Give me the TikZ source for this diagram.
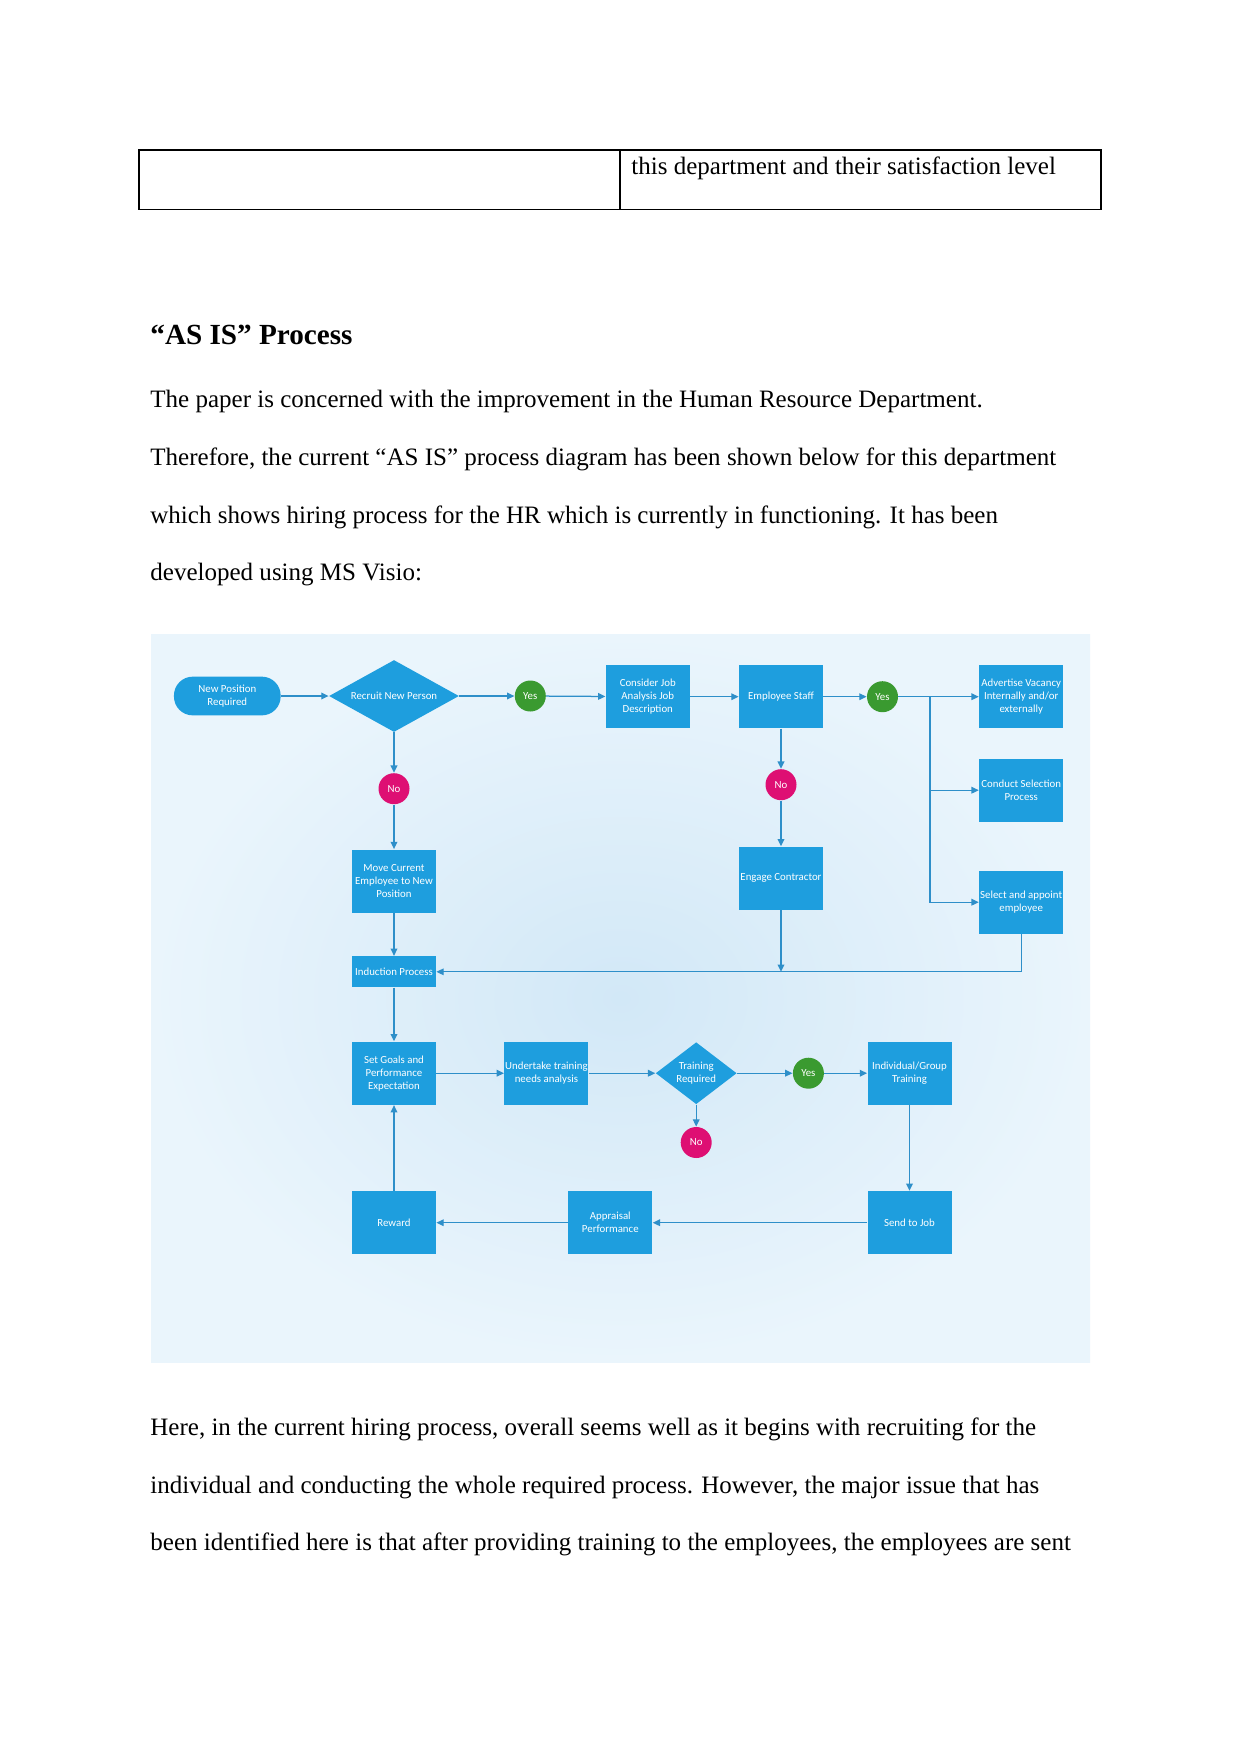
\documentclass[tikz,border=0pt]{standalone}
\usepackage{fontspec}
\setmainfont{Liberation Serif}
\newfontfamily\dfont{Carlito}
\usetikzlibrary{shapes.geometric,arrows.meta}
\definecolor{boxblue}{HTML}{1E9EDE}
\definecolor{yesgreen}{HTML}{3A9A30}
\definecolor{nopink}{HTML}{DE0F73}
\definecolor{linkblue}{HTML}{2E8FC9}
\definecolor{bgin}{RGB}{210,232,247}
\definecolor{bgout}{RGB}{234,245,252}
\def\px{0.47967pt}
\begin{document}
\begin{tikzpicture}[x=0.47967pt,y=-0.47967pt,
  dtxt/.style={font=\dfont\fontsize{5.2pt}{6.2pt}\selectfont, text=white, align=center},
  proc/.style={dtxt, rectangle, fill=boxblue, inner sep=0pt, minimum width=84*\px, minimum height=63*\px},
  yesc/.style={dtxt, circle, fill=yesgreen, inner sep=0pt, minimum size=31*\px},
  noc/.style={dtxt, circle, fill=nopink, inner sep=0pt, minimum size=31*\px},
  dec/.style={dtxt, diamond, fill=boxblue, inner sep=0pt},
  link/.style={draw=linkblue, line width=0.6pt, -{Triangle[length=3.5pt,width=3.2pt]}},
  body/.style={anchor=base west, inner sep=0pt, font=\fontsize{12pt}{14pt}\selectfont}]
\useasboundingbox[fill=white] (0,0) rectangle (1241,1754);

% table
\draw[line width=0.7pt] (138.8,150) rectangle (1101,209.3);
\draw[line width=0.7pt] (620,150) -- (620,209.3);
\node[body] (tbl) at (631,174.5) {this department and their satisfaction level};

% heading and text
\node[body, font=\fontsize{14pt}{16pt}\selectfont\bfseries] (head) at (150,344.5) {“AS IS” Process};
\node[body] (p1) at (150,407.7) {The paper is concerned with the improvement in the Human Resource Department.};
\node[body] (p2) at (150,465.7) {Therefore, the current “AS IS” process diagram has been shown below for this department};
\node[body] (p3) at (150,523.2) {which shows hiring process for the HR which is currently in functioning. It has been};
\node[body] (p4) at (150,580.7) {developed using MS Visio:};

\node[body] (q1) at (150,1435.5) {Here, in the current hiring process, overall seems well as it begins with recruiting for the};
\node[body] (q2) at (150,1493.3) {individual and conducting the whole required process. However, the major issue that has};
\node[body] (q3) at (150,1550.5) {been identified here is that after providing training to the employees, the employees are sent};

% diagram background
\shade[inner color=bgin, outer color=bgout] (151,634.5) rectangle (1090,1362);

% nodes
\node[dtxt, rectangle, rounded corners=9pt, fill=boxblue, inner sep=0pt, minimum width=106.7*\px, minimum height=38.7*\px] (newpos) at (227.3,696) {New Position\\Required};
\node[dec, shape aspect=1.8, minimum width=130*\px, minimum height=72*\px] (recruit) at (394,696) {Recruit New Person};
\node[yesc] (yes1) at (530.3,696) {Yes};
\node[proc] (consider) at (647.8,696.7) {Consider Job\\Analysis Job\\Description};
\node[proc] (staff) at (781,696.7) {Employee Staff};
\node[yesc] (yes2) at (882.5,696.7) {Yes};
\node[proc] (advert) at (1021.2,696.7) {Advertise Vacancy\\Internally and/or\\externally};
\node[proc] (conduct) at (1021.2,790.2) {Conduct Selection\\Process};
\node[proc] (select) at (1021.2,902.2) {Select and appoint\\employee};
\node[noc] (no1) at (394,788.7) {No};
\node[proc] (move) at (394,881) {Move Current\\Employee to New\\Position};
\node[noc] (no2) at (781,784.7) {No};
\node[proc] (engage) at (781,878.2) {Engage Contractor};
\node[proc, minimum height=31*\px] (induct) at (394,971.8) {Induction Process};
\node[proc] (goals) at (394,1073.2) {Set Goals and\\Performance\\Expectation};
\node[proc] (under) at (546.4,1073.2) {Undertake training\\needs analysis};
\node[dec, shape aspect=1.3, minimum width=81*\px, minimum height=62*\px] (train) at (696.2,1073.2) {Training\\Required};
\node[yesc] (yes3) at (808.4,1073.2) {Yes};
\node[proc] (indiv) at (909.5,1073.2) {Individual/Group\\Training};
\node[noc] (no3) at (696.2,1142.5) {No};
\node[proc] (send) at (909.5,1222.7) {Send to Job};
\node[proc] (apprais) at (610.3,1222.7) {Appraisal\\Performance};
\node[proc] (reward) at (394,1222.7) {Reward};

% connectors
\draw[link] (newpos) -- (recruit);
\draw[link] (recruit) -- (yes1);
\draw[link] (yes1) -- (consider);
\draw[link] (consider) -- (staff);
\draw[link] (staff) -- (yes2);
\draw[link] (yes2) -- (advert);
\coordinate (br) at (930,696.7);
\draw[link] (br) |- (conduct.west);
\draw[link] (br) |- (select.west);
\draw[link] (recruit) -- (no1);
\draw[link] (no1) -- (move);
\draw[link] (staff) -- (no2);
\draw[link] (no2) -- (engage);
\draw[link] (move) -- (induct);
\draw[link] (select.south) |- (induct.east);
\draw[link] (engage.south) -- (engage.south |- induct.east);
\draw[link] (induct) -- (goals);
\draw[link] (goals) -- (under);
\draw[link] (under) -- (train);
\draw[link] (train) -- (yes3);
\draw[link] (yes3) -- (indiv);
\draw[link] (train) -- (no3);
\draw[link] (indiv) -- (send);
\draw[link] (send) -- (apprais);
\draw[link] (apprais) -- (reward);
\draw[link] (reward) -- (goals);
\end{tikzpicture}
\end{document}
